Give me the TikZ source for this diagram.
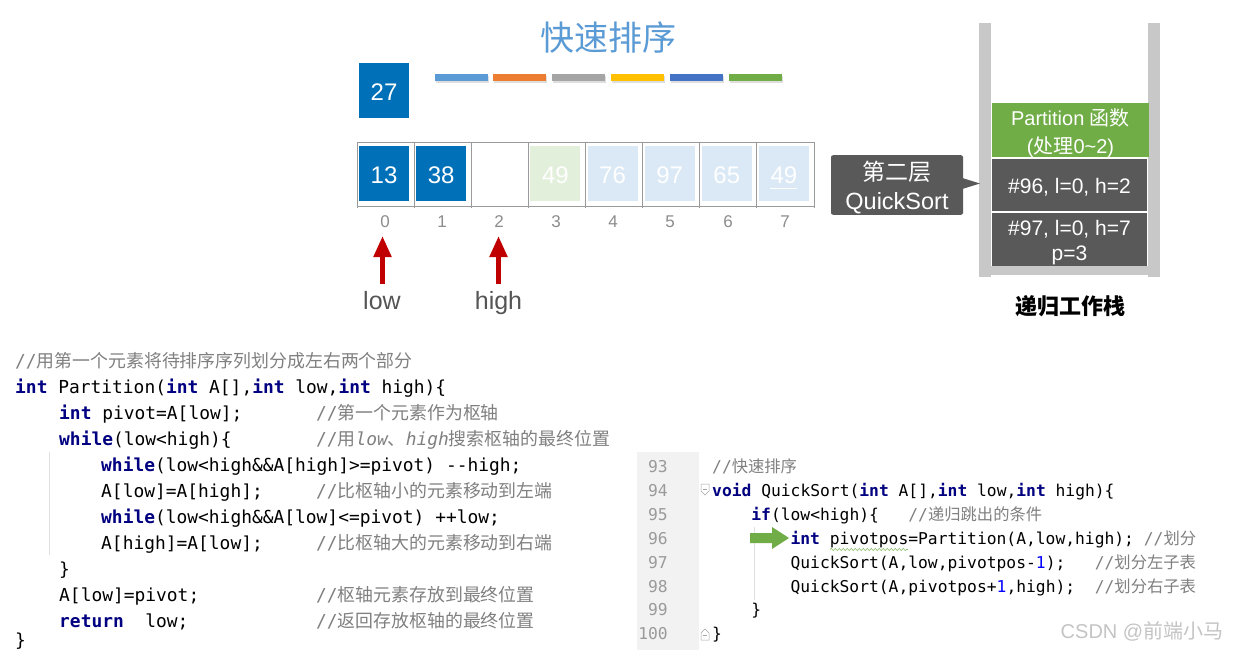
\documentclass[tikz,border=0pt]{standalone}
\usepackage{fontspec}
\setmainfont{Liberation Sans}
\newfontfamily\cjk{Noto Sans CJK SC}
\newfontfamily\code{DejaVu Sans Mono}
\usetikzlibrary{arrows.meta,decorations.pathmorphing}
\definecolor{titlec}{HTML}{5B9BD5}
\definecolor{dkblue}{HTML}{0070B8}
\definecolor{ltgreen}{HTML}{E2EFDA}
\definecolor{ltblue}{HTML}{DAE9F5}
\definecolor{framec}{HTML}{9A9A9A}
\definecolor{idxc}{HTML}{8C8C8C}
\definecolor{lblc}{HTML}{555555}
\definecolor{redc}{HTML}{C00000}
\definecolor{wallc}{HTML}{C8C8C8}
\definecolor{dkgray}{HTML}{595959}
\definecolor{grnc}{HTML}{70AD47}
\definecolor{b1}{HTML}{5B9BD5}
\definecolor{b2}{HTML}{ED7D31}
\definecolor{b3}{HTML}{A5A5A5}
\definecolor{b4}{HTML}{FFC000}
\definecolor{b5}{HTML}{4472C4}
\definecolor{kwc}{HTML}{000080}
\definecolor{cmc}{HTML}{808080}
\definecolor{numc}{HTML}{0000FF}
\definecolor{lnc}{HTML}{9A9A9A}
\definecolor{gutterc}{HTML}{F2F2F2}
\definecolor{wmc}{HTML}{C4C4C4}
\definecolor{squigc}{HTML}{8DC26F}
\newcommand\kw[1]{{\bfseries\color{kwc}#1}}
\begin{document}
\begin{tikzpicture}[x=1pt,y=-1pt,
  cellbox/.style={minimum width=50pt,minimum height=55pt,inner sep=0pt,text=white,text height=20pt,text depth=0pt,font=\fontsize{24}{24}\selectfont},
  idx/.style={anchor=base,inner sep=0pt,text=idxc,font=\fontsize{17}{17}\selectfont},
  ptrlbl/.style={anchor=base,inner sep=0pt,text=lblc,font=\fontsize{25}{25}\selectfont},
  redptr/.style={draw=redc,line width=5pt,-{Triangle[width=17pt,length=21pt]}},
  bar/.style={minimum width=53pt,minimum height=7pt,inner sep=0pt},
  stackbox/.style={fill=dkgray,minimum width=155pt,inner sep=0pt},
  stacktxt/.style={anchor=base,inner sep=0pt,text=white,font=\fontsize{21}{21}\selectfont},
  lcode/.style={anchor=base west,inner sep=0pt,font=\code\fontsize{17.9}{18}\selectfont},
  lcmt/.style={anchor=base west,inner sep=0pt,text=cmc,font=\code\fontsize{17.9}{18}\selectfont},
  rcode/.style={anchor=base west,inner sep=0pt,font=\code\fontsize{16.3}{16}\selectfont},
  lnum/.style={anchor=base east,inner sep=0pt,text=lnc,font=\code\fontsize{16.3}{16}\selectfont}]
\useasboundingbox (0,0) rectangle (1237,650);
\fill[white] (0,0) rectangle (1237,650);

% title
\node[text=titlec,font=\cjk\fontsize{34}{34}\selectfont,inner sep=0pt] (title) at (608,37.5) {快速排序};

% pivot box
\node[cellbox,fill=dkblue] (piv) at (384,90.5) {27};

% colour bars with shadows
\foreach \x in {461.5,519,578,637,696,755.5}{
  \fill[black!13] (\x-26.5+1,76.5) rectangle (\x+26.5+1,83.5);
}
\node[bar,fill=b1] (bar1) at (461.5,77.5) {};
\node[bar,fill=b2] (bar2) at (519,77.5) {};
\node[bar,fill=b3] (bar3) at (578,77.5) {};
\node[bar,fill=b4] (bar4) at (637,77.5) {};
\node[bar,fill=b5] (bar5) at (696,77.5) {};
\node[bar,fill=grnc] (bar6) at (755.5,77.5) {};

% array frame
\draw[framec,line width=0.9pt] (357,142) -- (814,142);
\draw[framec,line width=0.9pt] (357,206) -- (814,206);
\foreach \i in {0,...,8}{
  \draw[framec,line width=0.9pt] (357+57.125*\i,142) -- (357+57.125*\i,208);
}
% cells
\node[cellbox,fill=dkblue] (c0) at (384,173.5) {13};
\node[cellbox,fill=dkblue] (c1) at (441.1,173.5) {38};
\node[cellbox] (c2) at (498.3,173.5) {};
\node[cellbox,fill=ltgreen] (c3) at (555.4,173.5) {49};
\node[cellbox,fill=ltblue] (c4) at (612.5,173.5) {76};
\node[cellbox,fill=ltblue] (c5) at (669.6,173.5) {97};
\node[cellbox,fill=ltblue] (c6) at (726.8,173.5) {65};
\node[cellbox,fill=ltblue] (c7) at (783.9,173.5) {49};
\draw[white,line width=1.2pt] ([xshift=-13.5pt,yshift=-15pt]c7.center) -- ([xshift=13.5pt,yshift=-15pt]c7.center);

% indices
\node[idx] (i0) at (385,227) {0};
\node[idx] (i1) at (442,227) {1};
\node[idx] (i2) at (499,227) {2};
\node[idx] (i3) at (556,227) {3};
\node[idx] (i4) at (613,227) {4};
\node[idx] (i5) at (670,227) {5};
\node[idx] (i6) at (728,227) {6};
\node[idx] (i7) at (785,227) {7};

% low / high pointers
\node[ptrlbl] (lowl) at (382,309) {low};
\node[ptrlbl] (highl) at (498.5,309) {high};
\coordinate (lowtail) at (382.5,284);
\coordinate (lowtip) at (382.5,236);
\coordinate (hightail) at (498.5,284);
\coordinate (hightip) at (498.5,236);
\draw[redptr] (lowtail) -- (lowtip);
\draw[redptr] (hightail) -- (hightip);

% recursion stack
\fill[wallc] (979,23) rectangle (991,277);
\fill[wallc] (1148,23) rectangle (1160,277);
\fill[wallc] (991,266) rectangle (1148,275);
\node[fill=grnc,minimum width=157pt,minimum height=54pt,inner sep=0pt] (part) at (1070.5,130) {};
\node[stacktxt,font=\fontsize{20}{20}\selectfont] (partt1) at (1070.5,125.7) {Partition {\cjk 函数}};
\node[stacktxt,font=\fontsize{20}{20}\selectfont] (partt2) at (1070.5,153.8) {({\cjk 处理}0\textasciitilde2)};
\node[stackbox,minimum height=52pt] (s1) at (1069.5,185) {};
\node[stacktxt] (s1t) at (1069.5,193.3) {\#96, l=0, h=2};
\node[stackbox,minimum height=53pt] (s2) at (1069.5,239.2) {};
\node[stacktxt] (s2t1) at (1069.5,235.5) {\#97, l=0, h=7};
\node[stacktxt] (s2t2) at (1069.5,260.3) {p=3};
\node[font=\cjk\bfseries\fontsize{22}{22}\selectfont,inner sep=0pt] (stklbl) at (1070,306.5) {递归工作栈};

% callout
\node[fill=dkgray,rounded corners=2pt,minimum width=132pt,minimum height=59.5pt,inner sep=0pt] (callout) at (897,185) {};
\node[anchor=base,inner sep=0pt,text=white,font=\cjk\fontsize{23}{23}\selectfont] (callt1) at (897,180.5) {第二层};
\node[anchor=base,inner sep=0pt,text=white,font=\fontsize{23.5}{23.5}\selectfont] (callt2) at (897,209) {QuickSort};
\coordinate (tip) at (980,183.5);
\fill[dkgray] ([xshift=-1pt,yshift=7pt]callout.east) -- (tip) -- ([xshift=-1pt,yshift=-4pt]callout.east) -- cycle;

% left code
\draw[black!12,line width=0.8pt] (49,452) -- (49,555);
\node[lcmt] (l1) at (15,367) {//{\cjk 用第一个元素将待排序序列划分成左右两个部分}};
\node[lcode] (l2) at (15,393) {\kw{int} Partition(\kw{int} A[],\kw{int} low,\kw{int} high)\{};
\node[lcode] (l3) at (59,419) {\kw{int} pivot=A[low];};
\node[lcmt] (l3c) at (316,419) {//{\cjk 第一个元素作为枢轴}};
\node[lcode] (l4) at (59,445) {\kw{while}(low<high)\{};
\node[lcmt] (l4c) at (316,445) {//{\cjk 用}{\itshape low}{\cjk 、}{\itshape high}{\cjk 搜索枢轴的最终位置}};
\node[lcode] (l5) at (101,471) {\kw{while}(low<high\&\&A[high]>=pivot) -\kern0pt-high;};
\node[lcode] (l6) at (101,497) {A[low]=A[high];};
\node[lcmt] (l6c) at (316,497) {//{\cjk 比枢轴小的元素移动到左端}};
\node[lcode] (l7) at (101,523) {\kw{while}(low<high\&\&A[low]<=pivot) ++low;};
\node[lcode] (l8) at (101,549) {A[high]=A[low];};
\node[lcmt] (l8c) at (316,549) {//{\cjk 比枢轴大的元素移动到右端}};
\node[lcode] (l9) at (59,575) {\}};
\node[lcode] (l10) at (59,601) {A[low]=pivot;};
\node[lcmt] (l10c) at (316,601) {//{\cjk 枢轴元素存放到最终位置}};
\node[lcode] (l11) at (59,627) {\kw{return}\ \ low;};
\node[lcmt] (l11c) at (316,627) {//{\cjk 返回存放枢轴的最终位置}};
\node[lcode] (l12) at (15,646) {\}};

% right code
\fill[gutterc] (637,452) rectangle (699,650);
\node[lnum] (n93) at (668,472) {93};
\node[lnum] (n94) at (668,496) {94};
\node[lnum] (n95) at (668,520) {95};
\node[lnum] (n96) at (668,544) {96};
\node[lnum] (n97) at (668,568) {97};
\node[lnum] (n98) at (668,592) {98};
\node[lnum] (n99) at (668,615.5) {99};
\node[lnum] (n100) at (668,639) {100};
\draw[black!35,line width=0.5pt,fill=white] (701,484) -- (709,484) -- (709,491) -- (705,495) -- (701,491) -- cycle;
\draw[black!35,line width=0.5pt] (703,489) -- (707,489);
\draw[black!35,line width=0.5pt,fill=white] (701,640) -- (709,640) -- (709,633) -- (705,629) -- (701,633) -- cycle;
\draw[black!35,line width=0.5pt] (703,635) -- (707,635);
\draw[black!12,line width=0.8pt] (754,527) -- (754,600);
\node[rcode,text=cmc] (r93) at (712,472) {//{\cjk 快速排序}};
\node[rcode] (r94) at (712,496) {\kw{void} QuickSort(\kw{int} A[],\kw{int} low,\kw{int} high)\{};
\node[rcode] (r95) at (751.2,520) {\kw{if}(low<high)\{\ \ \ {\color{cmc}//\cjk 递归跳出的条件}};
\node[rcode] (r96) at (790.4,544) {\kw{int} pivotpos=Partition(A,low,high);\ {\color{cmc}//\cjk 划分}};
\node[rcode] (r97) at (790.4,568) {QuickSort(A,low,pivotpos-{\color{numc}1});\ \ \ {\color{cmc}//\cjk 划分左子表}};
\node[rcode] (r98) at (790.4,592) {QuickSort(A,pivotpos+{\color{numc}1},high);\ \ {\color{cmc}//\cjk 划分右子表}};
\node[rcode] (r99) at (751.2,615.5) {\}};
\node[rcode] (r100) at (712,639) {\}};
\draw[squigc,line width=0.6pt,decorate,decoration={snake,amplitude=1.1pt,segment length=4pt}] (830,549.5) -- (908,549.5);
\fill[grnc] (750,533) -- (772,533) -- (772,527) -- (789,538) -- (772,549) -- (772,543) -- (750,543) -- cycle;

% watermark
\node[text=wmc,inner sep=0pt,font=\fontsize{20}{20}\selectfont] (wm) at (1142,631) {CSDN @{\cjk 前端小马}};
\end{tikzpicture}
\end{document}
